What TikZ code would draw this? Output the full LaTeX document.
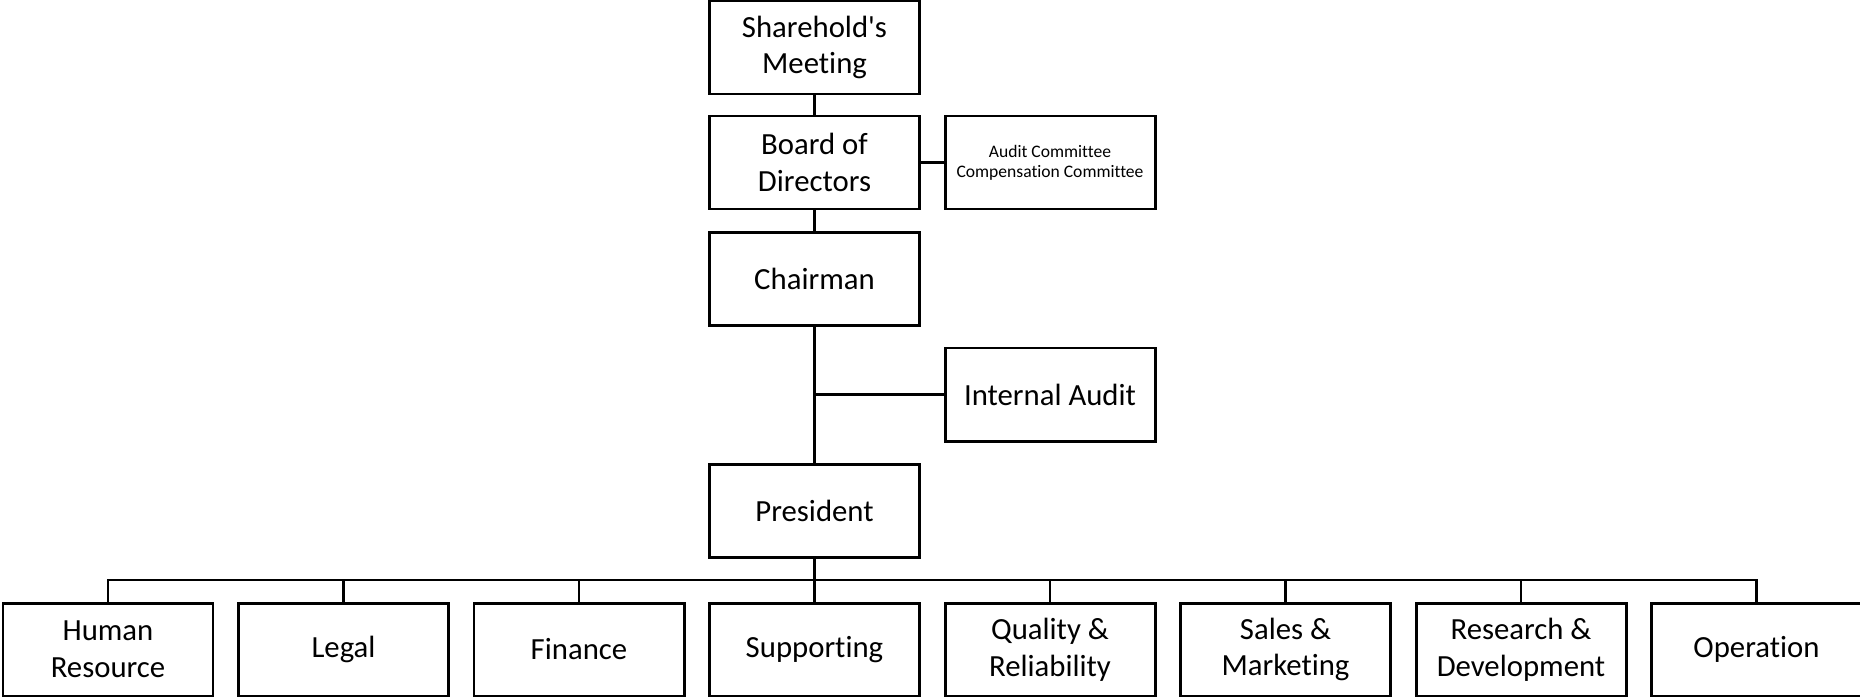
\documentclass[tikz,border=0pt]{standalone}
\usepackage{fontspec}
\setmainfont{Carlito}[Ligatures={NoCommon,NoRequired,NoContextual}]
\usepackage{tikz}
\usetikzlibrary{positioning}
\tikzset{
  unitnode/.style={rectangle,draw=black,line width=1.7pt,minimum width=4.2cm,minimum height=1.86cm,inner sep=1pt,align=center,font=\fontsize{17.5pt}{21pt}\selectfont},
  smallnode/.style={unitnode,font=\fontsize{10pt}{11.5pt}\selectfont},
  treeedge/.style={line width=1.25pt,black},
  sideedge/.style={line width=1.7pt,black},
}
\begin{document}
\begin{tikzpicture}
  \useasboundingbox (0,0) rectangle (37.2,-13.94);
  \node[unitnode] (nShare) at (16.29,-0.95) {Sharehold\textquotesingle s\\Meeting};
  \node[unitnode] (nBoard) at (16.29,-3.25) {Board of\\Directors};
  \node[smallnode] (nComm) at (21.00,-3.25) {Audit Committee\\Compensation Committee};
  \node[unitnode] (nChair) at (16.29,-5.58) {Chairman};
  \node[unitnode] (nAudit) at (21.00,-7.89) {Internal Audit};
  \node[unitnode] (nPres) at (16.29,-10.22) {President};
  \coordinate (cBus) at (16.29,-11.60);
  % departments
  \node[unitnode] (nHR) at (2.16,-12.99) {Human\\Resource};
  \node[unitnode] (nLegal) at (6.87,-12.99) {Legal};
  \node[unitnode] (nFin) at (11.58,-12.99) {Finance};
  \node[unitnode] (nSupp) at (16.29,-12.99) {Supporting};
  \node[unitnode] (nQual) at (21.00,-12.99) {Quality \&\\Reliability};
  \node[unitnode] (nSales) at (25.71,-12.99) {Sales \&\\Marketing};
  \node[unitnode] (nRD) at (30.42,-12.99) {Research \&\\Development};
  \node[unitnode] (nOper) at (35.13,-12.99) {Operation};
  \draw[treeedge] (nShare) -- (nBoard);
  \draw[treeedge] (nBoard) -- (nChair);
  \draw[treeedge] (nChair) -- (nPres);
  \draw[treeedge] (nPres) -- (nSupp);
  \draw[sideedge] (nBoard) -- (nComm);
  \draw[sideedge] (nAudit.west) -- (nAudit.west -| nChair.south);
  \draw[treeedge] (nHR.north) |- (cBus);
  \draw[treeedge] (nLegal.north) |- (cBus);
  \draw[treeedge] (nFin.north) |- (cBus);
  \draw[treeedge] (nQual.north) |- (cBus);
  \draw[treeedge] (nSales.north) |- (cBus);
  \draw[treeedge] (nRD.north) |- (cBus);
  \draw[treeedge] (nOper.north) |- (cBus);
\end{tikzpicture}
\end{document}
